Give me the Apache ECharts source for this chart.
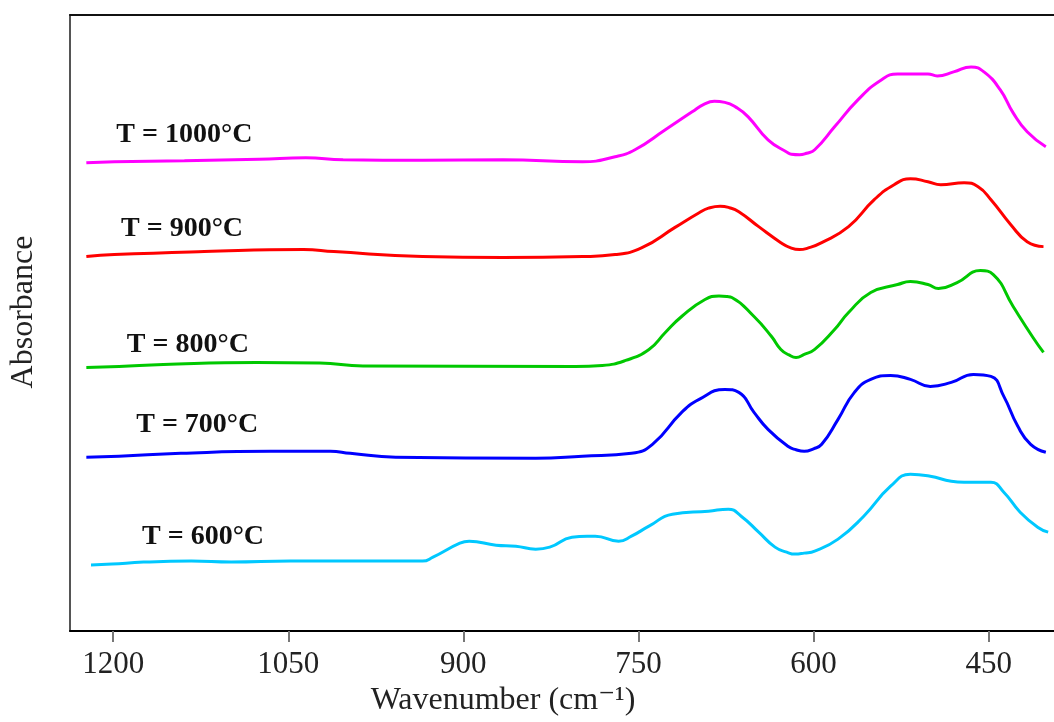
<!DOCTYPE html>
<html>
<head>
<meta charset="utf-8">
<script src="https://cdn.jsdelivr.net/npm/echarts@6/dist/echarts.min.js"></script>
<style>
html,body{margin:0;padding:0;background:#fff;}
#chart{width:1054px;height:722px;}
</style>
</head>
<body>
<div id="chart"></div>
<script>
// ---- Data (wavenumber in cm-1, absorbance in arbitrary stacked units) ----
const tickValues = [1200, 1050, 900, 750, 600, 450];
const seriesNames = ['T = 1000°C', 'T = 900°C', 'T = 800°C', 'T = 700°C', 'T = 600°C'];

const wn1000 = [1223, 1199, 1139, 1075, 1035, 1003, 935, 866, 798, 770, 753, 727, 704, 694, 685, 676, 665, 656, 639, 622, 619, 612, 606, 599, 582, 562, 542, 528, 502, 494, 480, 465, 454, 440, 429, 417, 401];
const ab1000 = [4.69, 4.70, 4.71, 4.725, 4.74, 4.72, 4.715, 4.72, 4.70, 4.75, 4.82, 5.02, 5.20, 5.275, 5.305, 5.295, 5.235, 5.15, 4.92, 4.79, 4.775, 4.77, 4.785, 4.82, 5.05, 5.32, 5.52, 5.58, 5.58, 5.56, 5.60, 5.65, 5.60, 5.42, 5.19, 5.00, 4.85];

const wn900 = [1223, 1199, 1122, 1037, 1011, 935, 866, 798, 770, 747, 719, 698, 690, 680, 672, 664, 647, 628, 619, 612, 605, 593, 570, 548, 531, 517, 502, 491, 471, 459, 448, 431, 417, 403];
const ab900 = [3.75, 3.77, 3.80, 3.82, 3.80, 3.75, 3.74, 3.75, 3.77, 3.84, 4.04, 4.19, 4.235, 4.255, 4.24, 4.20, 4.05, 3.89, 3.835, 3.82, 3.835, 3.89, 4.05, 4.32, 4.47, 4.53, 4.50, 4.47, 4.49, 4.45, 4.32, 4.07, 3.90, 3.85];

const wn800 = [1223, 1195, 1157, 1077, 1023, 986, 804, 781, 761, 741, 727, 713, 693, 681, 674, 670, 651, 636, 628, 621, 615, 608, 599, 582, 570, 551, 528, 517, 502, 493, 477, 457, 446, 429, 412, 403];
const ab800 = [2.64, 2.65, 2.67, 2.69, 2.685, 2.655, 2.65, 2.66, 2.71, 2.82, 2.99, 3.15, 3.32, 3.355, 3.35, 3.34, 3.15, 2.95, 2.82, 2.765, 2.74, 2.77, 2.82, 3.02, 3.19, 3.39, 3.47, 3.50, 3.47, 3.43, 3.49, 3.61, 3.57, 3.25, 2.94, 2.79];

const wn700 = [1223, 1195, 1142, 1065, 1014, 997, 958, 838, 798, 756, 738, 713, 698, 676, 664, 651, 639, 622, 615, 608, 600, 593, 579, 565, 551, 534, 517, 500, 482, 463, 448, 437, 425, 414, 401];
const ab700 = [1.74, 1.75, 1.78, 1.80, 1.80, 1.78, 1.74, 1.73, 1.75, 1.78, 1.87, 2.19, 2.32, 2.42, 2.39, 2.19, 2.02, 1.85, 1.815, 1.80, 1.825, 1.87, 2.12, 2.39, 2.52, 2.56, 2.52, 2.45, 2.49, 2.57, 2.55, 2.35, 2.05, 1.87, 1.79];

const wn600 = [1219, 1201, 1174, 1133, 1099, 1048, 935, 926, 903, 895, 872, 855, 838, 826, 807, 794, 787, 767, 756, 741, 721, 690, 673, 662, 647, 633, 623, 616, 608, 599, 579, 557, 534, 517, 500, 482, 471, 448, 437, 423, 408, 399];
const ab600 = [0.66, 0.67, 0.69, 0.70, 0.69, 0.70, 0.70, 0.74, 0.88, 0.90, 0.86, 0.85, 0.82, 0.84, 0.94, 0.95, 0.95, 0.90, 0.95, 1.05, 1.17, 1.20, 1.22, 1.15, 0.99, 0.84, 0.79, 0.77, 0.78, 0.80, 0.92, 1.15, 1.45, 1.57, 1.55, 1.50, 1.49, 1.49, 1.39, 1.19, 1.04, 0.99];

// ---- Build chart ----
const zip = (xs, ys) => xs.map((x, i) => [x, ys[i]]);
const allData = [zip(wn1000, ab1000), zip(wn900, ab900), zip(wn800, ab800), zip(wn700, ab700), zip(wn600, ab600)];
const colors = ['#ff00ff', '#ff0000', '#00c800', '#0000ff', '#00c8ff'];
// label anchor points (wavenumber, absorbance) for the curve annotations
const labelAnchors = [[1139, 4.97], [1141, 4.03], [1136, 2.87], [1128, 2.07], [1123, 0.94]];

const serif = "'Liberation Serif', 'Times New Roman', 'DejaVu Serif', serif";
const X_MIN = 394, X_MAX = 1237;

const chart = echarts.init(document.getElementById('chart'), null, {renderer: 'canvas'});
const option = {
  animation: false,
  backgroundColor: '#ffffff',
  grid: {left: 65, right: 0, top: 15, bottom: 90, containLabel: false},
  xAxis: [{
    type: 'value', inverse: true, min: X_MIN, max: X_MAX,
    position: 'bottom',
    name: 'Wavenumber (cm⁻¹)',
    nameLocation: 'middle', nameGap: 54,
    nameTextStyle: {fontFamily: serif, fontSize: 32, color: '#222', padding: [0, 118, 0, 0]},
    axisLine: {show: true, onZero: false, lineStyle: {color: '#000', width: 2}},
    axisTick: {show: true, length: 11, customValues: tickValues, lineStyle: {color: '#777', width: 2}},
    axisLabel: {show: true, customValues: tickValues, margin: 18, fontFamily: serif, fontSize: 31, color: '#222',
      formatter: v => String(v)},
    splitLine: {show: false}
  }, {
    type: 'value', inverse: true, min: X_MIN, max: X_MAX,
    position: 'top',
    axisLine: {show: true, onZero: false, lineStyle: {color: '#111', width: 2}},
    axisTick: {show: false}, axisLabel: {show: false}, splitLine: {show: false}
  }],
  yAxis: {
    type: 'value', min: 0, max: 6.17,
    name: 'Absorbance', nameLocation: 'middle', nameGap: 30, nameRotate: 90,
    nameTextStyle: {fontFamily: serif, fontSize: 32, color: '#222', padding: [0, 0, 0, 22]},
    axisLine: {show: true, onZero: false, lineStyle: {color: '#555', width: 2}},
    axisTick: {show: false}, axisLabel: {show: false}, splitLine: {show: false}
  },
  series: allData.map((d, i) => ({
    name: seriesNames[i],
    type: 'line',
    xAxisIndex: 0,
    data: d,
    smooth: 0.5,
    showSymbol: false,
    lineStyle: {color: colors[i], width: 3},
    markPoint: {
      symbol: 'circle', symbolSize: 1,
      itemStyle: {color: 'rgba(0,0,0,0)'},
      data: [{coord: labelAnchors[i], value: seriesNames[i]}],
      label: {
        show: true, position: 'inside', formatter: seriesNames[i],
        fontFamily: serif, fontWeight: 'bold', fontSize: 28, color: '#111'
      }
    }
  }))
};
chart.setOption(option);
</script>
</body>
</html>
